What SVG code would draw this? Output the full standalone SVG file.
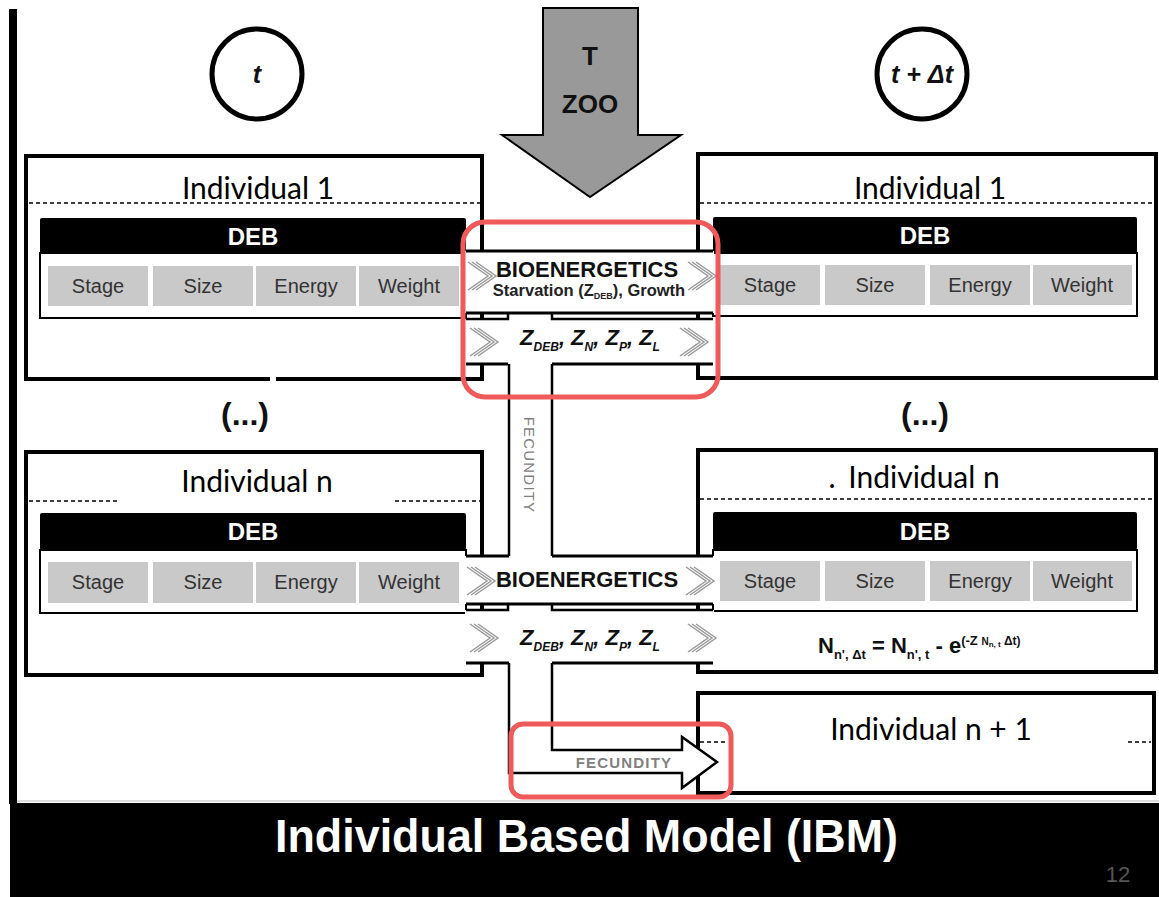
<svg xmlns="http://www.w3.org/2000/svg" xmlns:xlink="http://www.w3.org/1999/xlink" width="1159" height="897" viewBox="0 0 1159 897">
<style>
.box{fill:#fff;stroke:#000;stroke-width:4}
.dash{stroke:#000;stroke-width:1.5;stroke-dasharray:4 3;fill:none}
.hdr{fill:#000}
.row{fill:#fff;stroke:#000;stroke-width:2}
.cell{fill:#c9c9c9}
.ct{font-family:"Liberation Sans",Arial,sans-serif;font-size:20px;fill:#333;text-anchor:middle}
.deb{font-family:"Liberation Sans",Arial,sans-serif;font-size:24px;font-weight:bold;fill:#fff;text-anchor:middle}
.ind{font-family:Lato,"Open Sans",sans-serif;font-size:30px;fill:#000;text-anchor:middle}
.bio{font-family:"Liberation Sans",Arial,sans-serif;font-size:22px;font-weight:bold;fill:#111;text-anchor:middle}
.zt{font-family:"Liberation Sans",Arial,sans-serif;font-size:22px;font-weight:bold;font-style:italic;fill:#111;text-anchor:middle}
.sub{font-size:12px}
.ln{stroke:#000;stroke-width:3;fill:none}
.ln2{stroke:#000;stroke-width:2.5;fill:none}
.hl{fill:none;stroke:#f05a5a;stroke-width:5}
.circ{fill:#fff;stroke:#000;stroke-width:5}
.ctext{font-family:"Liberation Sans",Arial,sans-serif;font-size:25px;font-weight:bold;font-style:italic;fill:#111;text-anchor:middle}
.fec{font-family:"Liberation Sans",Arial,sans-serif;font-size:15px;fill:#808080;text-anchor:middle;letter-spacing:1.2px}
</style>
<defs>
<g id="chev" fill="none" stroke="#9a9a9a" stroke-width="1.5">
<polyline points="0,0 20,14 0,28"/>
<polyline points="4,0 24,14 4,28"/>
<polyline points="8,0 28,14 8,28"/>
</g>
</defs>
<rect x="0" y="0" width="1159" height="897" fill="#fff"/>
<g id="frame">
<rect x="9" y="9" width="8" height="795" fill="#000"/>
<line x1="17" y1="801" x2="1159" y2="801" stroke="#bbb" stroke-width="1"/>
<rect x="10" y="803" width="1149" height="94" fill="#000"/>
<text x="275" y="852" textLength="623" lengthAdjust="spacingAndGlyphs" font-family="Liberation Sans, Arial, sans-serif" font-size="46" font-weight="bold" fill="#fff">Individual Based Model (IBM)</text>
<text x="1118" y="882" text-anchor="middle" font-family="Liberation Sans, Arial, sans-serif" font-size="22" fill="#555">12</text>
</g>
<g id="time-t">
<circle class="circ" cx="257" cy="74" r="45"/>
<text class="ctext" x="257" y="83">t</text>
</g>
<g id="time-t-dt">
<circle class="circ" cx="922" cy="74" r="45"/>
<text class="ctext" x="922" y="83">t + Δt</text>
</g>
<g id="input-T-ZOO">
<polygon points="543,8 638,8 638,135 681,135 590,197 502,135 543,135" fill="#999" stroke="#000" stroke-width="2"/>
<text x="590" y="65" text-anchor="middle" font-family="Liberation Sans, Arial, sans-serif" font-size="26" font-weight="bold" fill="#111">T</text>
<text x="590" y="113" text-anchor="middle" font-family="Liberation Sans, Arial, sans-serif" font-size="26" font-weight="bold" fill="#111">ZOO</text>
</g>
<g id="left-individual-1">
<rect class="box" x="26" y="156" width="456" height="223"/>
<rect x="270" y="375" width="6" height="8" fill="#fff"/>
<line class="dash" x1="29" y1="203" x2="480" y2="203"/>
<text class="ind" x="258" y="199">Individual 1</text>
<rect class="row" x="40" y="253" width="426" height="65"/>
<rect class="hdr" x="40" y="218" width="426" height="36" rx="2"/>
<text class="deb" x="253" y="245">DEB</text>
<rect class="cell" x="48" y="266" width="100" height="40"/>
<rect class="cell" x="153" y="266" width="100" height="40"/>
<rect class="cell" x="256" y="266" width="100" height="40"/>
<rect class="cell" x="359" y="266" width="100" height="40"/>
<text class="ct" x="98" y="293">Stage</text>
<text class="ct" x="203" y="293">Size</text>
<text class="ct" x="306" y="293">Energy</text>
<text class="ct" x="409" y="293">Weight</text>
</g>
<g id="left-individual-n">
<rect class="box" x="26" y="452" width="456" height="223"/>
<line class="dash" x1="29" y1="501" x2="120" y2="501"/>
<line class="dash" x1="395" y1="501" x2="480" y2="501"/>
<text class="ind" x="257" y="492">Individual n</text>
<rect class="row" x="40" y="550" width="426" height="63"/>
<rect class="hdr" x="40" y="513" width="426" height="37" rx="2"/>
<text class="deb" x="253" y="540">DEB</text>
<rect class="cell" x="48" y="562" width="100" height="41"/>
<rect class="cell" x="153" y="562" width="100" height="41"/>
<rect class="cell" x="256" y="562" width="100" height="41"/>
<rect class="cell" x="359" y="562" width="100" height="41"/>
<text class="ct" x="98" y="589">Stage</text>
<text class="ct" x="203" y="589">Size</text>
<text class="ct" x="306" y="589">Energy</text>
<text class="ct" x="409" y="589">Weight</text>
</g>
<g id="dots-left"><text x="245" y="425" text-anchor="middle" font-family="Liberation Sans, Arial, sans-serif" font-size="32" font-weight="bold" fill="#111">(...)</text></g>
<g id="dots-right"><text x="925" y="425" text-anchor="middle" font-family="Liberation Sans, Arial, sans-serif" font-size="32" font-weight="bold" fill="#111">(...)</text></g>
<g id="right-individual-1">
<rect class="box" x="698" y="154" width="458" height="224"/>
<line class="dash" x1="700" y1="203" x2="1154" y2="203"/>
<text class="ind" x="930" y="199">Individual 1</text>
<rect class="row" x="713" y="253" width="424" height="63"/>
<rect class="hdr" x="713" y="217" width="424" height="36" rx="2"/>
<text class="deb" x="925" y="244">DEB</text>
<rect class="cell" x="720" y="265" width="100" height="40"/>
<rect class="cell" x="825" y="265" width="100" height="40"/>
<rect class="cell" x="930" y="265" width="100" height="40"/>
<rect class="cell" x="1033" y="265" width="99" height="40"/>
<text class="ct" x="770" y="292">Stage</text>
<text class="ct" x="875" y="292">Size</text>
<text class="ct" x="980" y="292">Energy</text>
<text class="ct" x="1082" y="292">Weight</text>
</g>
<g id="right-individual-n">
<rect class="box" x="698" y="450" width="458" height="222"/>
<line class="dash" x1="700" y1="499" x2="1154" y2="499"/>
<text class="ind" x="924" y="488">Individual n</text>
<text class="ind" x="832" y="488">.</text>
<rect class="row" x="713" y="550" width="424" height="61"/>
<rect class="hdr" x="713" y="512" width="424" height="38" rx="2"/>
<text class="deb" x="925" y="540">DEB</text>
<rect class="cell" x="720" y="561" width="100" height="40"/>
<rect class="cell" x="825" y="561" width="100" height="40"/>
<rect class="cell" x="930" y="561" width="100" height="40"/>
<rect class="cell" x="1033" y="561" width="99" height="40"/>
<text class="ct" x="770" y="588">Stage</text>
<text class="ct" x="875" y="588">Size</text>
<text class="ct" x="980" y="588">Energy</text>
<text class="ct" x="1082" y="588">Weight</text>
<text x="818" y="653" font-family="Liberation Sans, Arial, sans-serif" font-size="22" font-weight="bold" fill="#111">N<tspan font-size="13" dy="6">n', Δt</tspan><tspan dy="-6"> = N</tspan><tspan font-size="13" dy="6">n', t</tspan><tspan dy="-6"> - e</tspan><tspan font-size="13" dy="-8">(-Z </tspan><tspan font-size="10">N</tspan><tspan font-size="8" dy="2">n, t</tspan><tspan font-size="12" dy="-2"> Δt)</tspan></text>
</g>
<g id="right-individual-n1">
<rect class="box" x="698" y="693" width="456" height="100"/>
<line class="dash" x1="700" y1="742" x2="726" y2="742"/>
<line class="dash" x1="1128" y1="742" x2="1151" y2="742"/>
<text class="ind" x="931" y="740">Individual n + 1</text>
</g>
<g id="connectors">
<rect x="465" y="251" width="249" height="62" fill="#fff"/>
<rect x="465" y="319" width="249" height="45" fill="#fff"/>
<line class="ln" x1="466" y1="251" x2="713" y2="251"/>
<line class="ln" x1="466" y1="313" x2="713" y2="313"/>
<polyline class="ln2" points="466,319 508,319 508,313"/>
<polyline class="ln2" points="552,313 552,319 713,319"/>
<line class="ln" x1="466" y1="364" x2="508" y2="364"/>
<line class="ln" x1="552" y1="364" x2="713" y2="364"/>
<line class="ln" x1="482" y1="313" x2="482" y2="319"/>
<line class="ln" x1="698" y1="313" x2="698" y2="319"/>
<line class="ln" x1="482" y1="364" x2="482" y2="379"/>
<line class="ln" x1="698" y1="364" x2="698" y2="378"/>
<use xlink:href="#chev" x="468" y="262"/>
<use xlink:href="#chev" x="688" y="262"/>
<use xlink:href="#chev" x="470" y="328"/>
<use xlink:href="#chev" x="680" y="328"/>
<text class="bio" x="587" y="277">BIOENERGETICS</text>
<text x="589" y="296" text-anchor="middle" font-family="Liberation Sans, Arial, sans-serif" font-size="16.5" font-weight="bold" fill="#222">Starvation (Z<tspan font-size="9" dy="3">DEB</tspan><tspan dy="-3">), Growth</tspan></text>
<text class="zt" x="590" y="345">Z<tspan class="sub" dy="6">DEB</tspan><tspan dy="-6">, Z</tspan><tspan class="sub" dy="6">N</tspan><tspan dy="-6">, Z</tspan><tspan class="sub" dy="6">P</tspan><tspan dy="-6">, Z</tspan><tspan class="sub" dy="6">L</tspan></text>
<line class="ln2" x1="509" y1="364" x2="509" y2="556"/>
<line class="ln2" x1="552" y1="364" x2="552" y2="556"/>
<text class="fec" transform="translate(524,465) rotate(90)" font-size="14">FECUNDITY</text>
<rect x="465" y="556" width="249" height="48" fill="#fff"/>
<rect x="465" y="610" width="249" height="53" fill="#fff"/>
<line class="ln" x1="466" y1="556" x2="509" y2="556"/>
<line class="ln" x1="552" y1="556" x2="713" y2="556"/>
<line class="ln" x1="466" y1="604" x2="713" y2="604"/>
<polyline class="ln2" points="466,610 508,610 508,604"/>
<polyline class="ln2" points="552,604 552,610 713,610"/>
<line class="ln" x1="466" y1="663" x2="509" y2="663"/>
<line class="ln" x1="552" y1="663" x2="713" y2="663"/>
<line class="ln" x1="482" y1="604" x2="482" y2="610"/>
<line class="ln" x1="698" y1="604" x2="698" y2="610"/>
<line class="ln" x1="482" y1="663" x2="482" y2="675"/>
<line class="ln" x1="698" y1="663" x2="698" y2="672"/>
<use xlink:href="#chev" x="467" y="567"/>
<use xlink:href="#chev" x="686" y="567"/>
<use xlink:href="#chev" x="470" y="624"/>
<use xlink:href="#chev" x="688" y="624"/>
<text class="bio" x="587" y="587">BIOENERGETICS</text>
<text class="zt" x="590" y="645">Z<tspan class="sub" dy="6">DEB</tspan><tspan dy="-6">, Z</tspan><tspan class="sub" dy="6">N</tspan><tspan dy="-6">, Z</tspan><tspan class="sub" dy="6">P</tspan><tspan dy="-6">, Z</tspan><tspan class="sub" dy="6">L</tspan></text>
<path d="M509,663 L509,773 L682,773 L682,788 L717,762 L682,737 L682,750 L552,750 L552,663" fill="#fff" stroke="#000" stroke-width="2.5" stroke-linejoin="miter"/>
<text class="fec" x="624" y="768" font-weight="bold">FECUNDITY</text>
</g>
<g id="highlights">
<rect class="hl" x="463" y="222" width="255" height="175" rx="22"/>
<rect class="hl" x="511" y="724" width="220" height="73" rx="12"/>
</g>
</svg>
